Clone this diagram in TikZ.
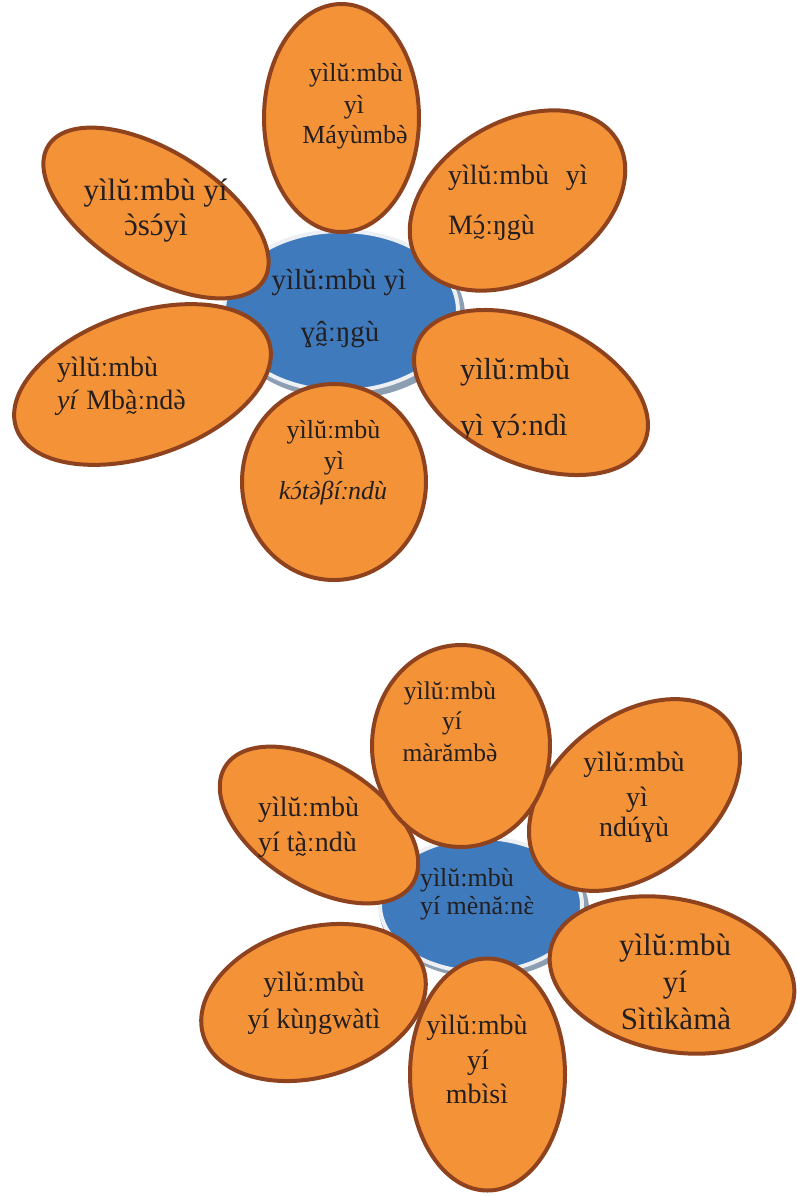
\documentclass[tikz,border=0pt]{standalone}
\usepackage{fontspec}
\setmainfont{Liberation Serif}
\newfontfamily\accfont{Liberation Serif}[Ligatures=ResetAll]
\usetikzlibrary{shapes.geometric}
\definecolor{petalfill}{RGB}{244,146,56}
\definecolor{petaledge}{RGB}{142,66,30}
\definecolor{hubfill}{RGB}{63,122,189}
\definecolor{hubring}{RGB}{236,240,244}
\definecolor{hubshadow}{RGB}{140,158,178}
\definecolor{ink}{RGB}{35,31,32}
\newcommand\ov[2]{\ooalign{#1\cr\hidewidth#2\hidewidth\cr}}
\newcommand\gr[1]{\ov{#1}{{\accfont\symbol{"60}}}}
\newcommand\ac[1]{\ov{#1}{{\accfont\symbol{"B4}}}}
\newcommand\tb[1]{\ov{#1}{\tikz[baseline=0pt, x=1em, y=1em]
  \draw[draw=ink, line width=0.045em, line cap=round]
  (0,-0.13) .. controls (0.05,-0.05) and (0.11,-0.05) .. (0.16,-0.1)
  .. controls (0.21,-0.15) and (0.27,-0.15) .. (0.32,-0.07);}}
\begin{document}
\begin{tikzpicture}[x=1pt,y=-1pt,
  petal/.style={ellipse, draw=petaledge, fill=petalfill, line width=4pt, inner sep=0pt, outer sep=0pt},
  hub/.style={ellipse, draw=hubring, fill=hubfill, line width=4pt, inner sep=0pt, outer sep=0pt},
  hubshade/.style={ellipse, fill=hubshadow, inner sep=0pt, outer sep=0pt},
  txt/.style={text=ink, inner sep=0pt, outer sep=0pt, anchor=base},
  txtl/.style={txt, anchor=base west}]
\useasboundingbox (0,0) rectangle (797,1197);

% ---------------- top flower ----------------
\node[hubshade, minimum width=242pt, minimum height=168pt] (hubAs) at (344,315) {};
\node[hub, minimum width=234pt, minimum height=160pt] (hubA) at (341,311) {};
\node[petal, minimum width=254pt, minimum height=124pt, rotate=-32] (pAul) at (156,213) {};
\node[petal, minimum width=233pt, minimum height=157pt, rotate=31] (pAur) at (517.5,200.5) {};
\node[petal, minimum width=267pt, minimum height=143pt, rotate=19] (pAll) at (142.5,384.5) {};
\node[petal, minimum width=248pt, minimum height=143pt, rotate=-24] (pAlr) at (531,392.5) {};
\node[petal, minimum width=155pt, minimum height=228pt] (pAt) at (341.5,118) {};
\node[petal, minimum width=184pt, minimum height=196pt] (pAb) at (334,482) {};

% texts
\begin{scope}[font=\fontsize{26}{30}\selectfont]
\node[txt] (tAt1) at (356,81) {yìlŭːmbù};
\node[txt] (tAt2) at (354,113) {yì};
\node[txt] (tAt3) at (355,143) {Máyùmb\gr{ə}};
\end{scope}
\begin{scope}[font=\fontsize{31}{36}\selectfont]
\node[txt] (tAul1) at (155.5,200) {yìlŭːmbù yí};
\node[txt] (tAul2) at (156,235) {\gr{ɔ}s\ac{ɔ}yì};
\end{scope}
\begin{scope}[font=\fontsize{28}{32}\selectfont]
\node[txtl] (tAur1) at (448,184.5) {yìlŭːmbù\hspace{0.6em}yì};
\node[txtl] (tAur2) at (448,234.5) {M\tb{\ac{ɔ}}ːŋgù};
\end{scope}
\begin{scope}[font=\fontsize{29}{33}\selectfont]
\node[txt] (tAc1) at (339,289.5) {yìlŭ:mbù yì};
\node[txt] (tAc2) at (340,341.5) {ɣ\tb{â}ːŋgù};
\end{scope}
\begin{scope}[font=\fontsize{28}{32}\selectfont]
\node[txtl] (tAll1) at (57,376.5) {yìlŭːmbù};
\node[txtl] (tAll2) at (57,409.5) {\textit{yí} Mb\tb{à}ːnd\gr{ə}};
\end{scope}
\begin{scope}[font=\fontsize{30.5}{34}\selectfont]
\node[txtl] (tAlr1) at (460,379) {yìlŭːmbù};
\begin{scope}
\clip (440,400) rectangle (640,437);
\node[txtl] (tAlr2) at (460,435) {yì ɣ\ac{ɔ}ːndì};
\end{scope}
\end{scope}
\begin{scope}[font=\fontsize{26}{30}\selectfont]
\node[txt] (tAb1) at (333.5,438) {yìlŭːmbù};
\node[txt] (tAb2) at (334,469) {yì};
\node[txt] (tAb3) at (333,499) {\itshape k\ac{ɔ}t\gr{ə}βíːndù};
\end{scope}

% ---------------- bottom flower ----------------
\node[hubshade, minimum width=210pt, minimum height=138pt] (hubBs) at (484,909) {};
\node[hub, minimum width=202pt, minimum height=134pt] (hubB) at (481,905) {};
\node[petal, minimum width=221pt, minimum height=123pt, rotate=-32] (pBul) at (319,825) {};
\node[petal, minimum width=238pt, minimum height=157pt, rotate=38] (pBur) at (634.5,795) {};
\node[petal, minimum width=230pt, minimum height=149pt, rotate=16.5] (pBll) at (313.5,1002.5) {};
\node[petal, minimum width=248pt, minimum height=152pt, rotate=-12] (pBlr) at (672,975) {};
\node[petal, minimum width=178pt, minimum height=202pt] (pBt) at (461,746) {};
\node[petal, minimum width=155pt, minimum height=232pt] (pBb) at (487.5,1074.5) {};

\begin{scope}[font=\fontsize{25.5}{30}\selectfont]
\node[txt] (tBt1) at (450,699) {yìlŭːmbù};
\node[txt] (tBt2) at (452,729) {yí};
\node[txt] (tBt3) at (450,761) {màrămb\gr{ə}};
\end{scope}
\begin{scope}[font=\fontsize{28}{32}\selectfont]
\node[txtl] (tBul1) at (258,816.5) {yìlŭːmbù};
\node[txtl] (tBul2) at (258,851.5) {yí t\tb{à}ːndù};
\end{scope}
\begin{scope}[font=\fontsize{28}{32}\selectfont]
\node[txt] (tBur1) at (634,771.5) {yìlŭːmbù};
\node[txt] (tBur2) at (637,806.5) {yì};
\node[txt] (tBur3) at (634,836.5) {ndúɣù};
\end{scope}
\begin{scope}[font=\fontsize{26}{30}\selectfont]
\node[txtl] (tBc1) at (420,886) {yìlŭ:mbù};
\node[txtl] (tBc2) at (420,914) {yí mènăːn\gr{ɛ}};
\end{scope}
\begin{scope}[font=\fontsize{28}{32}\selectfont]
\node[txt] (tBll1) at (314,991.5) {yìlŭːmbù};
\node[txt] (tBll2) at (314,1028.5) {yí kùŋgwàtì};
\end{scope}
\begin{scope}[font=\fontsize{28}{32}\selectfont]
\node[txt] (tBb1) at (477,1034.5) {yìlŭːmbù};
\node[txt] (tBb2) at (478,1069.5) {yí};
\node[txt] (tBb3) at (477,1103.5) {mbìsì};
\end{scope}
\begin{scope}[font=\fontsize{31}{36}\selectfont]
\node[txt] (tBlr1) at (675,955) {yìlŭːmbù};
\node[txt] (tBlr2) at (675,992) {yí};
\node[txt] (tBlr3) at (676,1029) {Sìtìkàmà};
\end{scope}
\end{tikzpicture}
\end{document}
